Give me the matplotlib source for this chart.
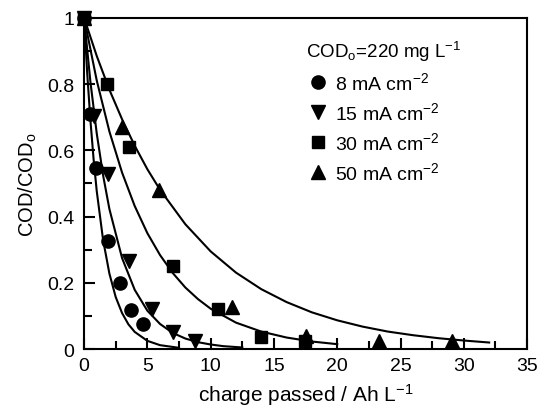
import numpy as np
import matplotlib.pyplot as plt
from matplotlib.ticker import MultipleLocator, FormatStrFormatter

plt.rcParams['font.family'] = ['Liberation Sans', 'DejaVu Sans']
plt.rcParams['mathtext.default'] = 'regular'
plt.rcParams['font.size'] = 14

# measured points (charge passed / Ah L-1, COD/CODo)
x8 = [0, 0.5, 0.95, 1.92, 2.84, 3.71, 4.63]
y8 = [1, 0.71, 0.547, 0.327, 0.20, 0.118, 0.075]
x15 = [0, 0.78, 1.87, 3.55, 5.4, 7.06, 8.77]
y15 = [1, 0.705, 0.53, 0.267, 0.12, 0.052, 0.025]
x30 = [0, 1.8, 3.55, 7.0, 10.56, 14.0, 17.45]
y30 = [1, 0.80, 0.611, 0.252, 0.12, 0.037, 0.025]
x50 = [0, 3.03, 5.95, 11.7, 17.5, 23.3, 29.1]
y50 = [1, 0.67, 0.480, 0.126, 0.04, 0.025, 0.025]

# fitted curves
cx8 = [0, 0.25, 0.5, 0.75, 1, 1.5, 2, 2.5, 3, 3.5, 4, 5, 6, 7.5]
cy8 = [1, 0.831, 0.691, 0.574, 0.477, 0.330, 0.228, 0.157, 0.109, 0.075,
       0.052, 0.025, 0.012, 0.004]
cx15 = [0, 0.5, 1, 1.5, 2, 3, 4, 5, 6, 7, 8, 9, 10, 11, 12.5]
cy15 = [1, 0.807, 0.651, 0.525, 0.423, 0.275, 0.179, 0.116, 0.076, 0.049,
        0.032, 0.021, 0.014, 0.009, 0.005]
cx30 = [0, 1, 2, 3, 4, 5, 6, 7, 8, 9, 10, 12, 14, 16, 18, 20]
cy30 = [1, 0.811, 0.657, 0.533, 0.432, 0.350, 0.284, 0.230, 0.186, 0.151,
        0.122, 0.080, 0.053, 0.035, 0.023, 0.015]
cx50 = [0, 1, 2, 3, 4, 5, 6, 8, 10, 12, 14, 16, 18, 20, 22, 24, 26, 28, 30, 32]
cy50 = [1, 0.885, 0.783, 0.694, 0.614, 0.543, 0.481, 0.377, 0.295, 0.231,
        0.181, 0.142, 0.111, 0.087, 0.068, 0.053, 0.042, 0.033, 0.026, 0.020]

fig = plt.figure(figsize=(5.39, 4.10), dpi=100)
ax = fig.add_axes([0.156, 0.146, 0.822, 0.808])

for cx, cy in [(cx8, cy8), (cx15, cy15), (cx30, cy30), (cx50, cy50)]:
    ax.plot(cx, cy, color='black', lw=1.5, zorder=2)

h8, = ax.plot(x8, y8, 'o', color='black', ms=9.5, ls='none', zorder=3, clip_on=False)
h15, = ax.plot(x15, y15, 'v', color='black', ms=9.5, ls='none', zorder=3, clip_on=False)
h50, = ax.plot(x50, y50, '^', color='black', ms=9.5, ls='none', zorder=3, clip_on=False)
h30, = ax.plot(x30, y30, 's', color='black', ms=9, ls='none', zorder=4, clip_on=False)

leg = ax.legend([h8, h15, h30, h50],
                ['8 mA cm$^{-2}$', '15 mA cm$^{-2}$', '30 mA cm$^{-2}$', '50 mA cm$^{-2}$'],
                title='COD$_o$=220 mg L$^{-1}$', frameon=False, loc='upper left',
                bbox_to_anchor=(0.462, 0.99), handletextpad=0.3, labelspacing=0.42,
                handlelength=1.2, fontsize=14, title_fontsize=13.5)
leg._legend_box.align = 'left'

ax.set_xlim(0, 35)
ax.set_ylim(0, 1)
ax.xaxis.set_major_locator(MultipleLocator(5))
ax.xaxis.set_minor_locator(MultipleLocator(2.5))
ax.yaxis.set_major_locator(MultipleLocator(0.2))
ax.yaxis.set_minor_locator(MultipleLocator(0.1))
ax.yaxis.set_major_formatter(FormatStrFormatter('%g'))
ax.tick_params(which='both', direction='in', width=1.5, labelsize=14)
ax.tick_params(which='major', length=8)
ax.tick_params(which='minor', length=6)
ax.tick_params(axis='y', pad=7)
ax.tick_params(axis='x', pad=6)
for s in ax.spines.values():
    s.set_linewidth(1.5)

ax.set_xlabel('charge passed / Ah L$^{-1}$', fontsize=15, labelpad=5)
ax.set_ylabel('COD/COD$_o$', fontsize=14.5, labelpad=6)

fig.savefig('out.png', dpi=100)
